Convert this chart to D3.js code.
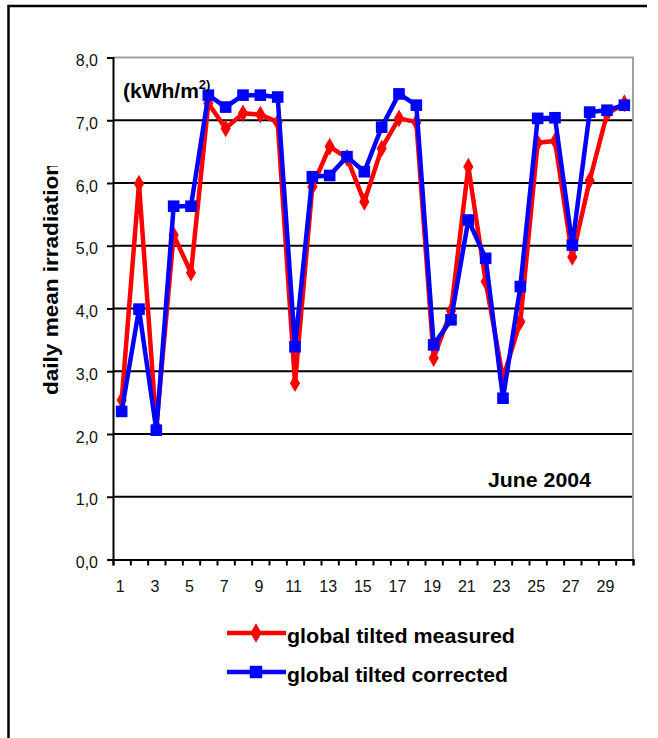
<!DOCTYPE html>
<html>
<head>
<meta charset="utf-8">
<script src="https://cdnjs.cloudflare.com/ajax/libs/d3/7.8.5/d3.min.js"></script>
<style>
  body { margin: 0; background: #fff; }
  text { font-family: "Liberation Sans", Arial, sans-serif; }
</style>
</head>
<body>
  <div id="chart"></div>
  <script>
  // days of June 2004
  var days = [1, 2, 3, 4, 5, 6, 7, 8, 9, 10, 11, 12, 13, 14, 15,
              16, 17, 18, 19, 20, 21, 22, 23, 24, 25, 26, 27, 28, 29, 30];

  // daily mean irradiation, kWh/m2
  var measured = [2.54, 5.99, 2.12, 5.17, 4.57, 7.27, 6.87, 7.11, 7.09, 6.97,
                  2.81, 5.94, 6.58, 6.40, 5.70, 6.55, 7.03, 6.97, 3.21, 3.96,
                  6.26, 4.43, 2.89, 3.79, 6.64, 6.67, 4.82, 6.04, 7.10, 7.27];
  var corrected = [2.36, 3.99, 2.06, 5.63, 5.63, 7.40, 7.21, 7.40, 7.40, 7.37,
                   3.39, 6.10, 6.12, 6.42, 6.18, 6.89, 7.42, 7.24, 3.42, 3.82,
                   5.41, 4.80, 2.57, 4.35, 7.03, 7.04, 5.01, 7.13, 7.16, 7.24];

  var yTicks = [0, 1, 2, 3, 4, 5, 6, 7, 8];
  var xLabels = [1, 3, 5, 7, 9, 11, 13, 15, 17, 19, 21, 23, 25, 27, 29];

  var W = 658, H = 738;
  var plotLeft = 113, plotRight = 633, plotTop = 57.5, plotBottom = 559.5;

  var svg = d3.select("#chart").append("svg")
    .attr("width", W).attr("height", H);

  svg.append("rect").attr("width", W).attr("height", H).attr("fill", "#fff");

  // outer frame (top and left only show)
  svg.append("path")
    .attr("d", "M8.5,739V6H647")
    .attr("fill", "none").attr("stroke", "#000").attr("stroke-width", 2.5);

  var x = d3.scaleBand().domain(days).range([plotLeft, plotRight]);
  var xb = d3.scaleLinear().domain([0, days.length]).range([plotLeft, plotRight]);
  var y = d3.scaleLinear().domain([0, 8]).range([plotBottom, plotTop]);

  // gridlines
  svg.append("g").selectAll("line")
    .data(yTicks.filter(function(d) { return d > 0 && d < 8; }))
    .enter().append("line")
    .attr("x1", plotLeft).attr("x2", plotRight)
    .attr("y1", function(d) { return y(d); }).attr("y2", function(d) { return y(d); })
    .attr("stroke", "#000").attr("stroke-width", 2);

  // gray plot border top / right
  svg.append("path")
    .attr("d", "M" + plotLeft + "," + y(8) + "H" + plotRight + "V" + plotBottom)
    .attr("fill", "none").attr("stroke", "#a0a0a0").attr("stroke-width", 2);

  // y axis
  var yAxis = svg.append("g")
    .attr("transform", "translate(" + plotLeft + ",0)")
    .call(d3.axisLeft(y).tickValues(yTicks).tickSize(6).tickPadding(9)
      .tickFormat(function(d) { return d3.format(".1f")(d).replace(".", ","); }));
  yAxis.select(".domain").attr("stroke", "#000").attr("stroke-width", 2);
  yAxis.selectAll(".tick line").attr("stroke", "#000").attr("stroke-width", 2);
  yAxis.selectAll(".tick text")
    .attr("font-size", 16).attr("fill", "#111").attr("dy", "0.5em")
    .style("font-family", "'Liberation Sans', Arial, sans-serif");

  // x axis: tick marks between categories
  var xTickAxis = svg.append("g")
    .attr("transform", "translate(0," + plotBottom + ")")
    .call(d3.axisBottom(xb).tickValues(d3.range(0, days.length + 1)).tickSize(6).tickFormat(""));
  xTickAxis.select(".domain").attr("stroke", "#000").attr("stroke-width", 2);
  xTickAxis.selectAll(".tick line").attr("stroke", "#000").attr("stroke-width", 2);

  // x labels on category centres
  var xLabAxis = svg.append("g")
    .attr("transform", "translate(-1.5," + plotBottom + ")")
    .call(d3.axisBottom(x).tickValues(xLabels).tickSize(0).tickPadding(21));
  xLabAxis.select(".domain").remove();
  xLabAxis.selectAll(".tick text")
    .attr("font-size", 16).attr("fill", "#111")
    .style("font-family", "'Liberation Sans', Arial, sans-serif");

  var cx = function(d, i) { return x(days[i]) + x.bandwidth() / 2; };

  var line = d3.line()
    .x(function(d, i) { return cx(d, i); })
    .y(function(d) { return y(d); });

  var series = [
    { name: "global tilted measured", values: measured, color: "#ff0000", symbol: d3.symbolDiamond, size: 90 },
    { name: "global tilted corrected", values: corrected, color: "#0000ff", symbol: d3.symbolSquare, size: 135 }
  ];

  series.forEach(function(s) {
    svg.append("path")
      .datum(s.values)
      .attr("d", line)
      .attr("fill", "none")
      .attr("stroke", s.color)
      .attr("stroke-width", 4.5)
      .attr("stroke-linejoin", "round");

    svg.append("g").selectAll("path")
      .data(s.values)
      .enter().append("path")
      .attr("d", d3.symbol().type(s.symbol).size(s.size))
      .attr("transform", function(d, i) { return "translate(" + cx(d, i) + "," + y(d) + ")"; })
      .attr("fill", s.color);
  });

  // y axis title (clipped at the top like the original)
  svg.append("clipPath").attr("id", "titleclip")
    .append("rect").attr("x", 0).attr("y", 166).attr("width", 100).attr("height", 300);
  svg.append("g").attr("clip-path", "url(#titleclip)")
    .append("text")
    .attr("transform", "translate(58,395) rotate(-90)")
    .attr("font-size", 21).attr("font-weight", "bold")
    .attr("textLength", 233).attr("lengthAdjust", "spacingAndGlyphs")
    .text("daily mean irradiation");

  // unit label
  var unit = svg.append("text")
    .attr("x", 123).attr("y", 98)
    .attr("font-size", 21).attr("font-weight", "bold");
  unit.append("tspan").text("(kWh/m");
  unit.append("tspan").attr("font-size", 13).attr("dy", -9).text("2)");

  svg.append("text")
    .attr("x", 488).attr("y", 487)
    .attr("font-size", 21).attr("font-weight", "bold")
    .attr("textLength", 103).attr("lengthAdjust", "spacingAndGlyphs")
    .text("June 2004");

  // legend
  var legend = svg.append("g");
  series.forEach(function(s, i) {
    var ly = 633 + i * 39;
    legend.append("line")
      .attr("x1", 227).attr("x2", 286).attr("y1", ly).attr("y2", ly)
      .attr("stroke", s.color).attr("stroke-width", 4.5);
    legend.append("path")
      .attr("d", d3.symbol().type(s.symbol).size(s.size + 20))
      .attr("transform", "translate(256," + ly + ")")
      .attr("fill", s.color);
    legend.append("text")
      .attr("x", 287).attr("y", ly + 10)
      .attr("font-size", 21).attr("font-weight", "bold")
      .attr("textLength", i === 0 ? 228 : 221).attr("lengthAdjust", "spacingAndGlyphs")
      .text(s.name);
  });
  </script>
</body>
</html>
